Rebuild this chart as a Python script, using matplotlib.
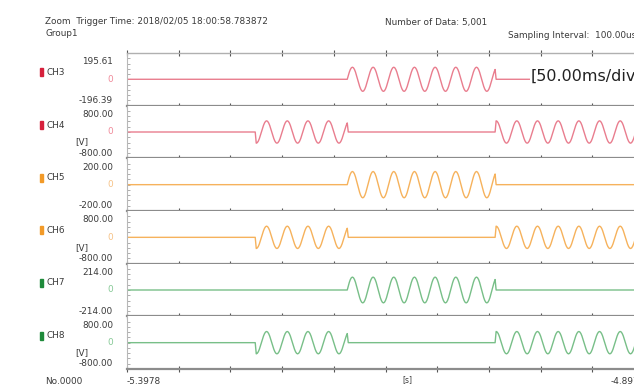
import matplotlib.pyplot as plt
from matplotlib.patches import Rectangle
import numpy as np

W, H = 634, 385

# time axis: 10 divisions of 50 ms, starting at -5.3978 s
t_start = -5.3978
t_div = 0.05
n_div = 10
n_ms = 500

channels = ['CH3', 'CH4', 'CH5', 'CH6', 'CH7', 'CH8']
top_vals = [195.61, 800.00, 200.00, 800.00, 214.00, 800.00]
bottom_vals = [-196.39, -800.00, -200.00, -800.00, -214.00, -800.00]
show_unit = [False, True, False, True, False, True]
amplitudes = [90, 340, 100, 340, 105, 340]

# bursts: (start ms, end ms, starting index in one cycle)
bursts_a = [(213, 356, 0)]
bursts_b = [(125, 213, 15), (357, 500, 5)]
channel_bursts = [bursts_a, bursts_b, bursts_a, bursts_b, bursts_a, bursts_b]

# one 50 Hz cycle, 1 ms per sample
cycle_shape = [0.00, 0.31, 0.59, 0.81, 0.95, 1.00, 0.95, 0.81, 0.59, 0.31,
               0.00, -0.31, -0.59, -0.81, -0.95, -1.00, -0.95, -0.81, -0.59, -0.31]

line_colors = ['#e97d8e', '#e97d8e', '#f6b25c', '#f6b25c', '#78bf88', '#78bf88']
mark_colors = ['#d6203c', '#d6203c', '#f29a28', '#f29a28', '#1e8a3a', '#1e8a3a']
zero_colors = ['#f08a9a', '#f08a9a', '#f6c286', '#f6c286', '#86c996', '#86c996']


def px(x, y):
    return x / W, 1 - y / H


def make_series(bursts, amp):
    vals = np.zeros(n_ms + 1)
    for start, end, idx in bursts:
        for ms in range(start, end + 1):
            vals[ms] = amp * cycle_shape[(idx + ms - start) % len(cycle_shape)]
    return vals


plt.rcParams['font.family'] = ['DejaVu Sans']
fig = plt.figure(figsize=(W / 100, H / 100), dpi=100)

t = t_start + np.arange(n_ms + 1) / 1000.0
plot_left, plot_top, plot_w = 127, 53, 517
band_h = (369 - plot_top) / 6.0
fs = 6.4
txt = '#3a3a3a'

for i, ch in enumerate(channels):
    top_px = plot_top + i * band_h
    bot_px = top_px + band_h
    ax = fig.add_axes([plot_left / W, 1 - bot_px / H, plot_w / W, band_h / H])
    ax.plot(t, make_series(channel_bursts[i], amplitudes[i]), color=line_colors[i], lw=1.0)
    ax.set_xlim(t_start, t_start + n_div * t_div)
    ax.set_ylim(bottom_vals[i], top_vals[i])

    ax.spines['right'].set_visible(False)
    ax.spines['left'].set_color('#b8b8b8')
    ax.spines['left'].set_linewidth(0.8)
    ax.spines['bottom'].set_color('#8c8c8c')
    ax.spines['bottom'].set_linewidth(1.6)
    if i == 0:
        ax.spines['top'].set_color('#b0b0b0')
        ax.spines['top'].set_linewidth(1.0)
    else:
        ax.spines['top'].set_visible(False)

    ax.set_xticks(t_start + np.arange(n_div + 1) * t_div)
    ax.tick_params(axis='x', direction='inout', length=4, width=0.8, color='#555555',
                   labelbottom=False, top=(i == 0))
    ax.set_yticks(np.linspace(bottom_vals[i], top_vals[i], 11)[1:-1])
    ax.tick_params(axis='y', direction='in', length=2.5, width=0.6, color='#a0a0a0',
                   labelleft=False)

    zero_px = top_px + band_h * top_vals[i] / (top_vals[i] - bottom_vals[i])
    fig.add_artist(Rectangle(px(40, zero_px - 3), 3 / W, 8 / H,
                             transform=fig.transFigure, color=mark_colors[i]))
    fig.text(*px(46, zero_px - 7), ch, fontsize=fs, color=txt, va='center')
    fig.text(*px(113, top_px + 9), f'{top_vals[i]:.2f}', fontsize=fs,
             color=txt, ha='right', va='center')
    fig.text(*px(113, bot_px - 5), f'{bottom_vals[i]:.2f}', fontsize=fs,
             color=txt, ha='right', va='center')
    fig.text(*px(113, zero_px), '0', fontsize=fs, color=zero_colors[i],
             ha='right', va='center')
    if show_unit[i]:
        fig.text(*px(75, zero_px + 10), '[V]', fontsize=fs, color=txt, va='center')

fig.text(*px(45, 22), 'Zoom  Trigger Time: 2018/02/05 18:00:58.783872', fontsize=fs,
         color=txt, va='center')
fig.text(*px(45, 33), 'Group1', fontsize=fs, color=txt, va='center')
fig.text(*px(385, 23), 'Number of Data: 5,001', fontsize=fs, color=txt, va='center')
fig.text(*px(508, 35), 'Sampling Interval:  100.00us', fontsize=fs, color=txt,
         va='center')
fig.text(*px(531, 76), '[50.00ms/div]', fontsize=11.5, color='#222222', va='center',
         bbox=dict(facecolor='white', edgecolor='none', pad=0.5))
fig.text(*px(45, 382), 'No.0000', fontsize=fs, color=txt, va='center')
fig.text(*px(127, 381), f'{t_start:.4f}', fontsize=fs, color=txt, va='center')
fig.text(*px(402, 380), '[s]', fontsize=5.5, color=txt, va='center')
fig.text(*px(645, 381), f'{t_start + n_div * t_div:.4f}', fontsize=fs, color=txt,
         ha='right', va='center')

fig.savefig('out.png', dpi=100)
